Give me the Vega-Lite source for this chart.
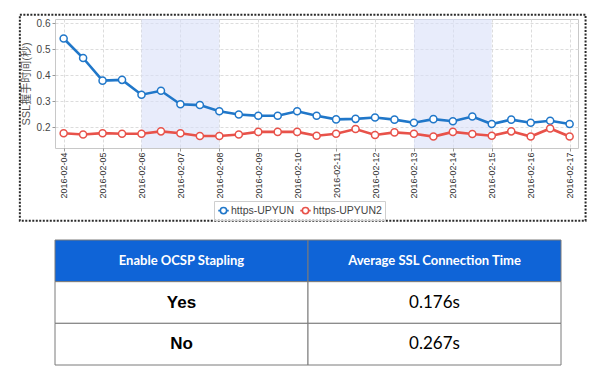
{
  "$schema": "https://vega.github.io/schema/vega-lite/v6.json",
  "padding": {"left": 18, "top": 13, "right": 5, "bottom": 5},
  "background": "white",
  "spacing": 16,
  "config": {
    "view": {"stroke": "#c8c8c8", "strokeWidth": 1},
    "font": "Liberation Sans"
  },
  "vconcat": [
    {
      "width": 523,
      "height": 129,
      "layer": [
        {
          "data": {"values": [
            {"start": "2016-02-06T00:00:00", "end": "2016-02-08T00:00:00"},
            {"start": "2016-02-13T00:00:00", "end": "2016-02-15T00:00:00"}
          ]},
          "mark": {"type": "rect", "fill": "#d9dff8", "opacity": 0.6},
          "encoding": {
            "x": {"field": "start", "type": "temporal"},
            "x2": {"field": "end"}
          }
        },
        {
          "data": {"values": [
            {"t": "2016-02-04T00:00:00", "https-UPYUN": 0.542, "https-UPYUN2": 0.178},
            {"t": "2016-02-04T12:00:00", "https-UPYUN": 0.467, "https-UPYUN2": 0.173},
            {"t": "2016-02-05T00:00:00", "https-UPYUN": 0.380, "https-UPYUN2": 0.178},
            {"t": "2016-02-05T12:00:00", "https-UPYUN": 0.383, "https-UPYUN2": 0.176},
            {"t": "2016-02-06T00:00:00", "https-UPYUN": 0.326, "https-UPYUN2": 0.176},
            {"t": "2016-02-06T12:00:00", "https-UPYUN": 0.341, "https-UPYUN2": 0.185},
            {"t": "2016-02-07T00:00:00", "https-UPYUN": 0.289, "https-UPYUN2": 0.178},
            {"t": "2016-02-07T12:00:00", "https-UPYUN": 0.286, "https-UPYUN2": 0.167},
            {"t": "2016-02-08T00:00:00", "https-UPYUN": 0.262, "https-UPYUN2": 0.167},
            {"t": "2016-02-08T12:00:00", "https-UPYUN": 0.250, "https-UPYUN2": 0.173},
            {"t": "2016-02-09T00:00:00", "https-UPYUN": 0.245, "https-UPYUN2": 0.183},
            {"t": "2016-02-09T12:00:00", "https-UPYUN": 0.245, "https-UPYUN2": 0.183},
            {"t": "2016-02-10T00:00:00", "https-UPYUN": 0.262, "https-UPYUN2": 0.183},
            {"t": "2016-02-10T12:00:00", "https-UPYUN": 0.245, "https-UPYUN2": 0.168},
            {"t": "2016-02-11T00:00:00", "https-UPYUN": 0.231, "https-UPYUN2": 0.176},
            {"t": "2016-02-11T12:00:00", "https-UPYUN": 0.233, "https-UPYUN2": 0.194},
            {"t": "2016-02-12T00:00:00", "https-UPYUN": 0.238, "https-UPYUN2": 0.171},
            {"t": "2016-02-12T12:00:00", "https-UPYUN": 0.230, "https-UPYUN2": 0.181},
            {"t": "2016-02-13T00:00:00", "https-UPYUN": 0.218, "https-UPYUN2": 0.176},
            {"t": "2016-02-13T12:00:00", "https-UPYUN": 0.232, "https-UPYUN2": 0.165},
            {"t": "2016-02-14T00:00:00", "https-UPYUN": 0.224, "https-UPYUN2": 0.183},
            {"t": "2016-02-14T12:00:00", "https-UPYUN": 0.242, "https-UPYUN2": 0.175},
            {"t": "2016-02-15T00:00:00", "https-UPYUN": 0.213, "https-UPYUN2": 0.168},
            {"t": "2016-02-15T12:00:00", "https-UPYUN": 0.230, "https-UPYUN2": 0.185},
            {"t": "2016-02-16T00:00:00", "https-UPYUN": 0.218, "https-UPYUN2": 0.165},
            {"t": "2016-02-16T12:00:00", "https-UPYUN": 0.226, "https-UPYUN2": 0.196},
            {"t": "2016-02-17T00:00:00", "https-UPYUN": 0.213, "https-UPYUN2": 0.165}
          ]},
          "transform": [{"fold": ["https-UPYUN", "https-UPYUN2"], "as": ["series", "v"]}],
          "encoding": {
            "x": {
              "field": "t", "type": "temporal",
              "scale": {"domain": [
                {"year": 2016, "month": 2, "date": 3, "hours": 18, "minutes": 40},
                {"year": 2016, "month": 2, "date": 17, "hours": 5, "minutes": 10}
              ], "nice": false},
              "axis": {
                "title": null, "format": "%Y-%m-%d", "labelAngle": 270,
                "tickCount": {"interval": "day", "step": 1}, "labelOverlap": false,
                "labelFontSize": 9, "labelColor": "#333", "labelPadding": 1,
                "tickSize": 3, "tickColor": "#999", "domain": false,
                "grid": true, "gridColor": "#dcdcdc", "gridDash": [3, 2]
              }
            },
            "y": {
              "field": "v", "type": "quantitative",
              "scale": {"domain": [0.121, 0.617], "nice": false, "zero": false},
              "axis": {
                "title": "SSL握手时间(秒)", "values": [0.2, 0.3, 0.4, 0.5, 0.6], "tickCount": 5,
                "format": ".1f", "labelFontSize": 10, "labelColor": "#444", "labelOverlap": false,
                "tickSize": 3, "tickColor": "#999", "labelPadding": 2, "domain": false,
                "grid": true, "gridColor": "#dcdcdc", "gridDash": [3, 2],
                "titleFont": "Liberation Sans, Noto Sans CJK SC", "titleFontSize": 11,
                "titleFontWeight": "normal", "titleColor": "#555", "titlePadding": 5
              }
            },
            "color": {
              "field": "series", "type": "nominal",
              "scale": {"domain": ["https-UPYUN", "https-UPYUN2"], "range": ["#2077c9", "#e8524a"]},
              "legend": {
                "title": null, "orient": "none", "legendX": 159, "legendY": 182,
                "direction": "horizontal", "strokeColor": "#cfcfcf", "padding": 3,
                "labelFontSize": 10.5, "labelColor": "#444", "labelOffset": 1,
                "symbolType": "M-1,0H-0.6M0.6,0H1M-0.6,0A0.6,0.6 0 1,0 0.6,0A0.6,0.6 0 1,0 -0.6,0",
                "symbolSize": 110, "symbolStrokeWidth": 1.6, "columnPadding": 2,
                "symbolFillColor": "white",
                "encode": {"symbols": {"update": {"fill": {"value": "white"}}}}
              }
            }
          },
          "layer": [
            {"mark": {"type": "line", "strokeWidth": 2.6}},
            {"mark": {"type": "point", "filled": false, "fill": "white", "opacity": 1, "size": 50, "strokeWidth": 1.5}}
          ]
        },
        {
          "data": {"values": [{}]},
          "mark": {"type": "rect", "filled": false, "stroke": "#2a2a2a", "strokeWidth": 2, "strokeDash": [2, 1.5]},
          "encoding": {
            "x": {"datum": {"year": 2016, "month": 2, "date": 2, "hours": 21, "minutes": 0}, "type": "temporal"},
            "x2": {"datum": {"year": 2016, "month": 2, "date": 17, "hours": 9, "minutes": 50}},
            "y": {"datum": -0.1586, "type": "quantitative",
              "axis": {
                "title": "SSL握手时间(秒)", "values": [0.2, 0.3, 0.4, 0.5, 0.6], "tickCount": 5,
                "format": ".1f", "labelFontSize": 10, "labelColor": "#444", "labelOverlap": false,
                "tickSize": 3, "tickColor": "#999", "labelPadding": 2, "domain": false,
                "grid": true, "gridColor": "#dcdcdc", "gridDash": [3, 2],
                "titleFont": "Liberation Sans, Noto Sans CJK SC", "titleFontSize": 11,
                "titleFontWeight": "normal", "titleColor": "#555", "titlePadding": 5
              }},
            "y2": {"datum": 0.6335}
          }
        }
      ]
    },
    {
      "width": 506,
      "height": 125,
      "view": {"stroke": null},
      "data": {"values": [
        {"r": "h", "c": "c1", "t": "Enable OCSP Stapling"},
        {"r": "h", "c": "c2", "t": "Average SSL Connection Time"},
        {"r": "y", "c": "c1", "t": "Yes"},
        {"r": "y", "c": "c2", "t": "0.176s"},
        {"r": "n", "c": "c1", "t": "No"},
        {"r": "n", "c": "c2", "t": "0.267s"}
      ]},
      "encoding": {
        "x": {"field": "c", "type": "nominal", "scale": {"paddingInner": 0, "paddingOuter": 0}, "axis": null},
        "y": {"field": "r", "type": "nominal", "sort": ["h", "y", "n"], "scale": {"paddingInner": 0, "paddingOuter": 0}, "axis": null}
      },
      "layer": [
        {
          "mark": {"type": "rect", "stroke": "#7a7a7a", "strokeWidth": 1},
          "encoding": {
            "fill": {"field": "r", "type": "nominal", "scale": {"domain": ["h", "y", "n"], "range": ["#0f64d7", "#ffffff", "#ffffff"]}, "legend": null}
          }
        },
        {
          "transform": [{"filter": "datum.r === 'h'"}],
          "mark": {"type": "text", "font": "Lato", "fontWeight": "bold", "fontSize": 13, "color": "white"},
          "encoding": {"text": {"field": "t"}}
        },
        {
          "transform": [{"filter": "datum.r !== 'h' && datum.c === 'c1'"}],
          "mark": {"type": "text", "font": "Liberation Sans", "fontWeight": "bold", "fontSize": 17, "color": "black"},
          "encoding": {"text": {"field": "t"}}
        },
        {
          "transform": [{"filter": "datum.r !== 'h' && datum.c === 'c2'"}],
          "mark": {"type": "text", "font": "Lato", "fontSize": 17, "color": "black"},
          "encoding": {"text": {"field": "t"}}
        }
      ]
    }
  ]
}
